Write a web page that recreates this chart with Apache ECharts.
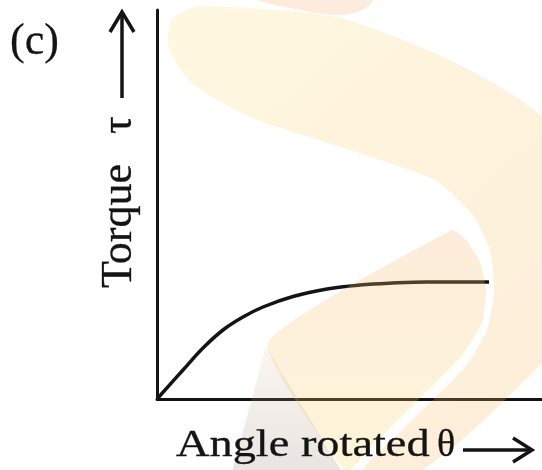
<!DOCTYPE html>
<html>
<head>
<meta charset="utf-8">
<script src="https://cdn.jsdelivr.net/npm/echarts@6/dist/echarts.min.js"></script>
<style>
  html, body { margin: 0; padding: 0; background: #ffffff; }
  #chart { width: 542px; height: 470px; }
</style>
</head>
<body>
<div id="chart"></div>
<script>
// Torque vs. angle of twist: rises almost linearly, then saturates.
const angleRotated = [0, 26, 46, 66, 86, 106, 136, 170, 203, 236, 270, 332];
const torque       = [0, 29, 51, 69, 82, 92, 102.5, 110, 114, 116, 117, 117];

const panelLabel   = '(c)';
const xTitle       = 'Angle rotated';
const xSymbol      = 'θ';
const yTitle       = 'Torque';
const ySymbol      = 'τ';

const SERIF = '"Liberation Serif", "Times New Roman", serif';
const INK = '#141414';

const chart = echarts.init(document.getElementById('chart'), null, { renderer: 'canvas' });

const points = angleRotated.map((a, i) => [a, torque[i]]);

const lin = (x1, y1, x2, y2, c1, c2) =>
  new echarts.graphic.LinearGradient(x1, y1, x2, y2, [{ offset: 0, color: c1 }, { offset: 1, color: c2 }]);

// Faint publisher logo laid over the plot (semi-transparent fills)
const logo = [
  { // main sweeping band
    type: 'polygon', z: 50, silent: true,
    shape: { smooth: 0.2, points: [
      [172, 18], [200, 6], [337, 17], [450, 60], [542, 117], [590, 230],
      [560, 340], [505, 400], [450, 450], [400, 482], [362, 472],
      [400, 432], [435, 398], [466, 366], [487, 330], [494, 290], [490, 250],
      [472, 214], [435, 180], [350, 150], [250, 117], [190, 82], [168, 45]
    ] },
    style: { fill: lin(0, 0, 1, 1, 'rgba(255, 218, 100, 0.20)', 'rgba(245, 175, 95, 0.24)') }
  },
  { // top crest of the logo
    type: 'polygon', z: 50, silent: true,
    shape: { smooth: 0.4, points: [[250, -4], [300, 10], [350, 14], [372, 0], [330, -6]] },
    style: { fill: 'rgba(245, 170, 100, 0.22)' }
  },
  { // inner fan (yellow part)
    type: 'polygon', z: 50, silent: true,
    shape: { smooth: 0.15, points: [
      [268, 343], [452, 230], [466, 240], [480, 262], [486, 290], [482, 322],
      [463, 354], [432, 386], [404, 414], [376, 442], [352, 468], [345, 472]
    ] },
    style: { fill: lin(0.5, 0, 0.5, 1, 'rgba(245, 180, 110, 0.26)', 'rgba(255, 215, 95, 0.24)') }
  },
  { // inner fan (shaded wedge)
    type: 'polygon', z: 50, silent: true,
    shape: { points: [[266, 346], [342, 472], [232, 472]] },
    style: { fill: lin(0, 0, 0, 1, 'rgba(215, 185, 150, 0.14)', 'rgba(150, 130, 115, 0.22)') }
  }
];

// Serif labels, with a hairline outline so the strokes read a little heavier
const labelStyle = (text, size) => ({
  text, font: size + 'px ' + SERIF, fill: INK, stroke: INK, lineWidth: 0.3,
  align: 'left', verticalAlign: 'middle'
});

const texts = [
  { type: 'text', z: 100, x: 10, y: 42, style: labelStyle(panelLabel, 44) },
  { type: 'text', z: 100, x: 176, y: 446, scaleX: 1.22, style: labelStyle(xTitle, 38) },
  { type: 'text', z: 100, x: 437, y: 446, style: labelStyle(xSymbol, 38) },
  { type: 'text', z: 100, x: 119, y: 288, rotation: Math.PI / 2, style: labelStyle(yTitle, 44) },
  { type: 'text', z: 100, x: 119, y: 134, rotation: Math.PI / 2, style: labelStyle(ySymbol, 44) }
];

const arrowStyle = { stroke: INK, lineWidth: 3.5, fill: null, lineCap: 'butt', lineJoin: 'miter' };
const arrows = [
  { type: 'line', z: 100, shape: { x1: 122, y1: 98, x2: 122, y2: 12 }, style: arrowStyle },
  { type: 'polyline', z: 100, shape: { points: [[110, 32], [122, 12], [134, 32]] }, style: arrowStyle },
  { type: 'line', z: 100, shape: { x1: 463, y1: 450, x2: 531, y2: 450 }, style: arrowStyle },
  { type: 'polyline', z: 100, shape: { points: [[513, 438], [532, 450], [513, 462]] }, style: arrowStyle }
];

chart.setOption({
  animation: false,
  backgroundColor: '#ffffff',
  grid: { left: 157, right: 0, top: 10, bottom: 71, containLabel: false },
  xAxis: {
    type: 'value', min: 0, max: 385,
    axisLine: { show: true, onZero: false, lineStyle: { color: INK, width: 3 } },
    axisTick: { show: false }, axisLabel: { show: false }, splitLine: { show: false }
  },
  yAxis: {
    type: 'value', min: 0, max: 389,
    axisLine: { show: true, onZero: false, lineStyle: { color: INK, width: 3 } },
    axisTick: { show: false }, axisLabel: { show: false }, splitLine: { show: false }
  },
  series: [{
    type: 'line',
    data: points,
    smooth: 0.4,
    showSymbol: false,
    symbol: 'none',
    lineStyle: { color: INK, width: 3.5 }
  }],
  graphic: { elements: [...logo, ...texts, ...arrows] }
});
</script>
</body>
</html>
